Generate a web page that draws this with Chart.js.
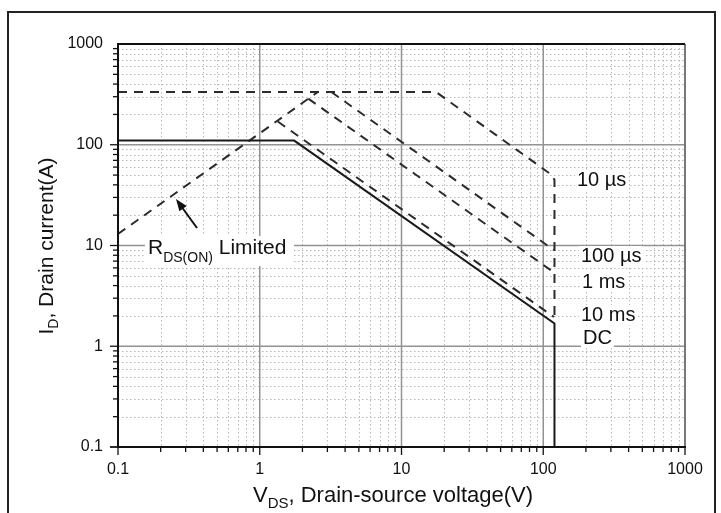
<!DOCTYPE html>
<html><head><meta charset="utf-8">
<script src="https://cdn.jsdelivr.net/npm/chart.js@4"></script>
<style>html,body{margin:0;padding:0;background:#fff;overflow:hidden}canvas{display:block}</style>
</head><body>
<canvas id="c" width="721" height="513"></canvas>
<script>
// ---- data ----
const decadeTicks = [0.1, 1, 10, 100, 1000];
const tickLabels = ['0.1', '1', '10', '100', '1000'];
const seriesNames = ['10 µs', '100 µs', '1 ms', '10 ms', 'DC', 'RDS(ON) Limited'];
const vds10us = [0.1, 17.5, 113, 120, 120];
const id10us  = [334, 334, 51, 45, 1.75];
const vds100us = [3.2, 119];
const id100us  = [334, 9.0];
const vds1ms = [2.2, 119];
const id1ms  = [287, 5.4];
const vds10ms = [1.34, 119];
const id10ms  = [170, 1.95];
const vdsDC = [0.1, 1.75, 120, 120];
const idDC  = [110, 110, 1.68, 0.1];
const vdsRds = [0.1, 2.57];
const idRds  = [13, 334];

const FONT = '"Liberation Sans", Arial, sans-serif';
const pts = (xs, ys) => xs.map((x, i) => ({x, y: ys[i]}));
const dashedSet = (label, xs, ys) => ({label, data: pts(xs, ys), showLine: true, pointRadius: 0,
  borderColor: '#2b2b2b', borderWidth: 2, borderDash: [9, 7], fill: false, tension: 0});

const datasets = [
  dashedSet(seriesNames[0], vds10us, id10us),
  dashedSet(seriesNames[1], vds100us, id100us),
  dashedSet(seriesNames[2], vds1ms, id1ms),
  dashedSet(seriesNames[3], vds10ms, id10ms),
  {label: seriesNames[4], data: pts(vdsDC, idDC), showLine: true, pointRadius: 0,
   borderColor: '#1a1a1a', borderWidth: 2, fill: false, tension: 0},
  dashedSet(seriesNames[5], vdsRds, idRds)
];

function textWithSub(ctx, x, y, parts) {
  let cx = x;
  for (const [t, size, dy] of parts) {
    ctx.font = size + 'px ' + FONT;
    ctx.fillText(t, cx, y + dy);
    cx += ctx.measureText(t).width;
  }
  return cx - x;
}
function measureParts(ctx, parts) {
  let w = 0;
  for (const [t, size] of parts) { ctx.font = size + 'px ' + FONT; w += ctx.measureText(t).width; }
  return w;
}

const decor = {
  id: 'decor',
  beforeDraw(chart) {
    const ctx = chart.ctx;
    ctx.save(); ctx.fillStyle = '#fff'; ctx.fillRect(0, 0, chart.width, chart.height); ctx.restore();
  },
  beforeDatasetsDraw(chart) {
    const {ctx, chartArea: a, scales: {x, y}} = chart;
    ctx.save();
    ctx.strokeStyle = '#b8b8b8'; ctx.lineWidth = 1; ctx.setLineDash([1.5, 2.5]);
    for (let e = -1; e < 3; e++) for (let k = 2; k <= 9; k++) {
      const v = k * Math.pow(10, e);
      const px = Math.round(x.getPixelForValue(v)) + 0.5;
      ctx.beginPath(); ctx.moveTo(px, a.top); ctx.lineTo(px, a.bottom); ctx.stroke();
      const py = Math.round(y.getPixelForValue(v)) + 0.5;
      ctx.beginPath(); ctx.moveTo(a.left, py); ctx.lineTo(a.right, py); ctx.stroke();
    }
    ctx.setLineDash([]); ctx.strokeStyle = '#939393'; ctx.lineWidth = 1.5;
    for (const v of decadeTicks) {
      const px = x.getPixelForValue(v), py = y.getPixelForValue(v);
      ctx.beginPath(); ctx.moveTo(px, a.top); ctx.lineTo(px, a.bottom); ctx.stroke();
      ctx.beginPath(); ctx.moveTo(a.left, py); ctx.lineTo(a.right, py); ctx.stroke();
    }
    ctx.restore();
  },
  afterDatasetsDraw(chart) {
    const {ctx, chartArea: a, scales: {x, y}} = chart;
    ctx.save();
    ctx.strokeStyle = '#111'; ctx.lineWidth = 1.3;
    for (let e = -1; e < 3; e++) for (let k = 1; k <= 9; k++) {
      const v = k * Math.pow(10, e);
      const len = k === 1 ? 8 : 5;
      const px = x.getPixelForValue(v), py = y.getPixelForValue(v);
      ctx.beginPath(); ctx.moveTo(px, a.bottom); ctx.lineTo(px, a.bottom + len); ctx.stroke();
      ctx.beginPath(); ctx.moveTo(a.left, py); ctx.lineTo(a.left - len, py); ctx.stroke();
    }
    {
      const px = x.getPixelForValue(1000), py = y.getPixelForValue(0.1);
      ctx.beginPath(); ctx.moveTo(px, a.bottom); ctx.lineTo(px, a.bottom + 8); ctx.stroke();
      ctx.beginPath(); ctx.moveTo(a.left, py); ctx.lineTo(a.left - 8, py); ctx.stroke();
    }
    ctx.strokeStyle = '#666'; ctx.lineWidth = 1.5;
    ctx.beginPath(); ctx.moveTo(a.right, a.top); ctx.lineTo(a.right, a.bottom); ctx.stroke();
    ctx.strokeStyle = '#111'; ctx.lineWidth = 2;
    ctx.beginPath(); ctx.moveTo(a.left, a.top); ctx.lineTo(a.right, a.top); ctx.stroke();
    ctx.beginPath(); ctx.moveTo(a.left, a.top - 1); ctx.lineTo(a.left, a.bottom); ctx.lineTo(a.right + 1, a.bottom); ctx.stroke();

    ctx.textBaseline = 'alphabetic'; ctx.textAlign = 'left';
    const labs = [[seriesNames[0], 577, 186], [seriesNames[1], 581, 262], [seriesNames[2], 582, 288],
                  [seriesNames[3], 581, 321], [seriesNames[4], 583, 344]];
    ctx.font = '20px ' + FONT;
    for (const [t, lx, ly] of labs) {
      const w = ctx.measureText(t).width;
      ctx.fillStyle = '#fff'; ctx.fillRect(lx - 2, ly - 16, w + 4, 20);
      ctx.fillStyle = '#111'; ctx.fillText(t, lx, ly);
    }
    ctx.fillStyle = '#fff'; ctx.fillRect(145, 236, 149, 30);
    ctx.fillStyle = '#111';
    textWithSub(ctx, 148, 254, [['R', 21, 0], ['DS(ON)', 14, 8], [' Limited', 21, 0]]);
    const tx = 176, ty = 199, sx = 197, sy = 228;
    const ang = Math.atan2(ty - sy, tx - sx);
    ctx.strokeStyle = '#111'; ctx.lineWidth = 2;
    ctx.beginPath(); ctx.moveTo(sx, sy); ctx.lineTo(tx - 8 * Math.cos(ang), ty - 8 * Math.sin(ang)); ctx.stroke();
    ctx.beginPath();
    ctx.moveTo(tx, ty);
    ctx.lineTo(tx - 12 * Math.cos(ang) + 4.5 * Math.sin(ang), ty - 12 * Math.sin(ang) - 4.5 * Math.cos(ang));
    ctx.lineTo(tx - 12 * Math.cos(ang) - 4.5 * Math.sin(ang), ty - 12 * Math.sin(ang) + 4.5 * Math.cos(ang));
    ctx.closePath(); ctx.fill();

    const xt = [['V', 22, 0], ['DS', 15, 6], [', Drain-source voltage(V)', 22, 0]];
    const xw = measureParts(ctx, xt);
    textWithSub(ctx, 393 - xw / 2, 502, xt);
    const yt = [['I', 21, 0], ['D', 14, 5], [', Drain current(A)', 21, 0]];
    const yw = measureParts(ctx, yt);
    ctx.save(); ctx.translate(53, 246); ctx.rotate(-Math.PI / 2);
    textWithSub(ctx, -yw / 2, 0, yt);
    ctx.restore();

    ctx.strokeStyle = '#222'; ctx.lineWidth = 2;
    ctx.strokeRect(8, 12, 707, 520);
    ctx.restore();
  }
};

new Chart(document.getElementById('c'), {
  type: 'scatter',
  data: {datasets},
  options: {
    responsive: false, animation: false, devicePixelRatio: 1,
    layout: {padding: {left: 0, top: 44, right: 36, bottom: 0}},
    plugins: {legend: {display: false}, tooltip: {enabled: false}},
    scales: {
      x: {
        type: 'logarithmic', min: 0.1, max: 1000,
        afterFit: s => { s.height = 66; },
        afterBuildTicks: s => { s.ticks = decadeTicks.map(v => ({value: v})); },
        grid: {drawOnChartArea: false, drawTicks: true, tickLength: 8, tickColor: 'rgba(0,0,0,0)'},
        border: {display: false},
        ticks: {padding: 5, color: '#111', font: {family: FONT, size: 16}, maxRotation: 0, autoSkip: false,
                callback: (v) => { const i = decadeTicks.indexOf(v); return i >= 0 ? tickLabels[i] : ''; }}
      },
      y: {
        type: 'logarithmic', min: 0.1, max: 1000,
        afterFit: s => { s.width = 118; },
        afterBuildTicks: s => { s.ticks = decadeTicks.map(v => ({value: v})); },
        grid: {drawOnChartArea: false, drawTicks: true, tickLength: 8, tickColor: 'rgba(0,0,0,0)'},
        border: {display: false},
        ticks: {padding: 7, color: '#111', font: {family: FONT, size: 16}, autoSkip: false,
                callback: (v) => { const i = decadeTicks.indexOf(v); return i >= 0 ? tickLabels[i] : ''; }}
      }
    }
  },
  plugins: [decor]
});
</script>
</body></html>
